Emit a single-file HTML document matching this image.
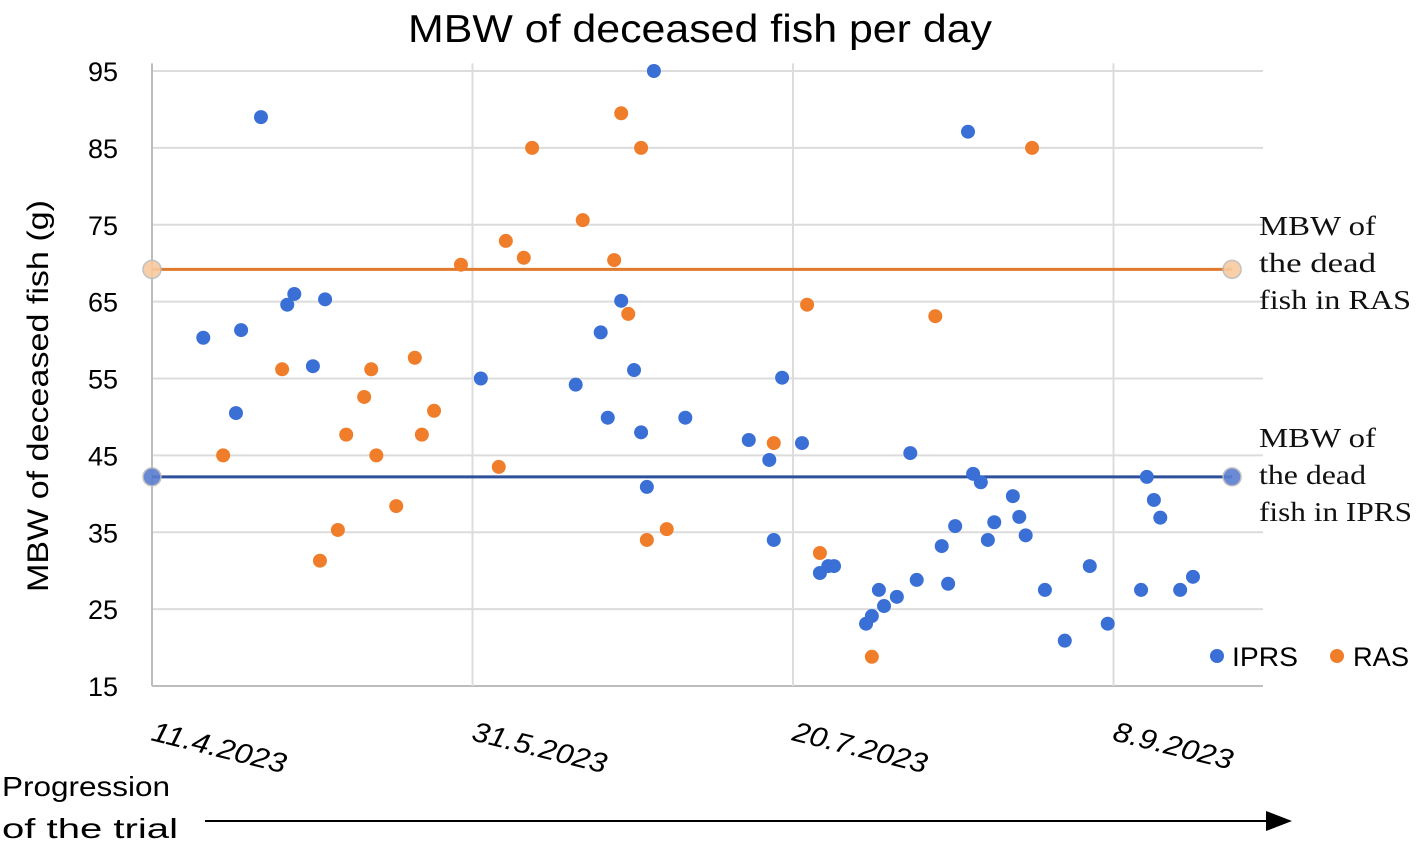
<!DOCTYPE html>
<html><head><meta charset="utf-8"><style>
html,body{margin:0;padding:0;background:#fff;width:1417px;height:847px;overflow:hidden}
svg text{font-family:"Liberation Sans",sans-serif}
</style></head><body>
<svg id="chart" width="1417" height="847" xmlns="http://www.w3.org/2000/svg">
<text x="408" y="42" font-size="39" textLength="584" lengthAdjust="spacingAndGlyphs" fill="#000">MBW of deceased fish per day</text>
<g id="grid"></g><g id="refs"></g><g id="pts"></g>
<text transform="translate(48,592) rotate(-90)" font-size="30" textLength="392" lengthAdjust="spacingAndGlyphs">MBW of deceased fish (g)</text>
<text font-size="28" x="2" y="796" textLength="168" lengthAdjust="spacingAndGlyphs">Progression</text>
<text font-size="28" x="2" y="838" textLength="176" lengthAdjust="spacingAndGlyphs">of the trial</text>
<line x1="205" y1="821" x2="1270" y2="821" stroke="#000" stroke-width="2"/>
<polygon points="1292,821 1266,811 1266,831" fill="#000"/>
<g>
<circle cx="1217" cy="656" r="7" fill="#3a6fd6"/>
<text x="1232" y="666" font-size="27" textLength="66" lengthAdjust="spacingAndGlyphs">IPRS</text>
<circle cx="1337" cy="656" r="7" fill="#f07d2a"/>
<text x="1353" y="666" font-size="27" textLength="56" lengthAdjust="spacingAndGlyphs">RAS</text>
</g>
<g font-size="27" fill="#111" style="font-family:'Liberation Serif',serif">
<text x="1259" y="235" textLength="117" lengthAdjust="spacingAndGlyphs" style="font-family:'Liberation Serif',serif">MBW of</text>
<text x="1259" y="272" textLength="117" lengthAdjust="spacingAndGlyphs" style="font-family:'Liberation Serif',serif">the  dead</text>
<text x="1259" y="309" textLength="152" lengthAdjust="spacingAndGlyphs" style="font-family:'Liberation Serif',serif">fish in RAS</text>
</g>
<g font-size="27" fill="#111">
<text x="1259" y="447" textLength="117" lengthAdjust="spacingAndGlyphs" style="font-family:'Liberation Serif',serif">MBW of</text>
<text x="1259" y="484" textLength="107" lengthAdjust="spacingAndGlyphs" style="font-family:'Liberation Serif',serif">the dead</text>
<text x="1259" y="521" textLength="153" lengthAdjust="spacingAndGlyphs" style="font-family:'Liberation Serif',serif">fish in IPRS</text>
</g>
</svg>
<script>
const yTicks=[15,25,35,45,55,65,75,85,95];
const xTickDays=[0,50,100,150];
const xTickLabels=["11.4.2023","31.5.2023","20.7.2023","8.9.2023"];
const iprsDays=[8.0,13.1,13.9,17.0,21.1,22.2,25.1,27.0,51.3,66.1,70.0,71.1,73.2,75.2,76.3,77.2,78.3,83.2,93.1,96.3,97.0,98.3,101.4,104.2,105.5,106.4,111.4,112.3,113.4,114.2,116.2,118.3,119.3,123.2,124.2,125.3,127.3,128.1,129.3,130.4,131.4,134.3,135.3,136.3,139.3,142.4,146.3,149.1,154.3,155.2,156.3,157.3,160.4,162.4];
const iprsValues=[60.3,50.5,61.3,89.0,64.6,66.0,56.6,65.3,55.0,54.2,61.0,49.9,65.1,56.1,48.0,40.9,95.0,49.9,47.0,44.4,34.0,55.1,46.6,29.7,30.6,30.6,23.1,24.1,27.5,25.4,26.6,45.3,28.8,33.2,28.3,35.8,87.1,42.6,41.5,34.0,36.3,39.7,37.0,34.6,27.5,20.9,30.6,23.1,27.5,42.2,39.2,36.9,27.5,29.2];
const rasDays=[11.1,20.3,26.2,29.0,30.3,33.1,34.2,35.0,38.1,41.0,42.1,44.0,48.2,54.1,55.2,58.0,59.3,67.2,72.1,73.2,74.3,76.3,77.2,80.3,97.0,102.2,104.2,112.3,122.2,137.3];
const rasValues=[45.0,56.2,31.3,35.3,47.7,52.6,56.2,45.0,38.4,57.7,47.7,50.8,69.8,43.5,72.9,70.7,85.0,75.6,70.4,89.5,63.4,85.0,34.0,35.4,46.6,64.6,32.3,18.8,63.1,85.0];
const refRAS=69.2, refIPRS=42.2;
const refStartDay=0, refEndDay=168.5;

const NS="http://www.w3.org/2000/svg";
const X=d=>152+d*6.41;
const Y=v=>686-(v-15)*7.6875;
function mk(tag,attrs,parent){const e=document.createElementNS(NS,tag);for(const k in attrs)e.setAttribute(k,attrs[k]);parent.appendChild(e);return e;}
const grid=document.getElementById('grid');
yTicks.forEach(t=>{
  const l=mk('line',{x1:152,x2:1263,y1:Y(t),y2:Y(t),stroke:t===15?'#bdbdbd':'#dcdcdc','stroke-width':2},grid);
  
  
  const tx=mk('text',{x:118,y:Y(t)+10,'font-size':27,'text-anchor':'end'},grid);
  tx.textContent=t;
  
  
});
xTickDays.forEach((d,i)=>{
  const l=mk('line',{x1:X(d),x2:X(d),y1:Y(96),y2:686,stroke:i===0?'#bdbdbd':'#dcdcdc','stroke-width':2},grid);
  
  
  const tx=mk('text',{transform:`translate(${X(d)-2},740) rotate(14)`,'font-size':28,'font-style':'italic',textLength:xTickLabels[i].length*15.3,lengthAdjust:'spacingAndGlyphs'},grid);
  tx.textContent=xTickLabels[i];
  
  
});
const refs=document.getElementById('refs');
[[refRAS,'#e07a2c','#f8caa0','ras-mean-line'],[refIPRS,'#2e4f9a','#5b7ed0','iprs-mean-line']].forEach(([v,c,fc,n])=>{
  const l=mk('line',{x1:X(refStartDay),x2:X(refEndDay),y1:Y(v),y2:Y(v),stroke:c,'stroke-width':3},refs);
  
  
  [refStartDay,refEndDay].forEach(d=>{
    const cc=mk('circle',{cx:X(d),cy:Y(v),r:9,fill:fc,stroke:'#bbb','stroke-width':1.5,opacity:0.9},refs);
    
    
  });
});
const pts=document.getElementById('pts');
iprsDays.forEach((d,i)=>{
  const c=mk('circle',{cx:X(d),cy:Y(iprsValues[i]),r:7,fill:'#3a6fd6'},pts);
  
  
});
rasDays.forEach((d,i)=>{
  const c=mk('circle',{cx:X(d),cy:Y(rasValues[i]),r:7,fill:'#f07d2a'},pts);
  
  
});
</script>
</body></html>
